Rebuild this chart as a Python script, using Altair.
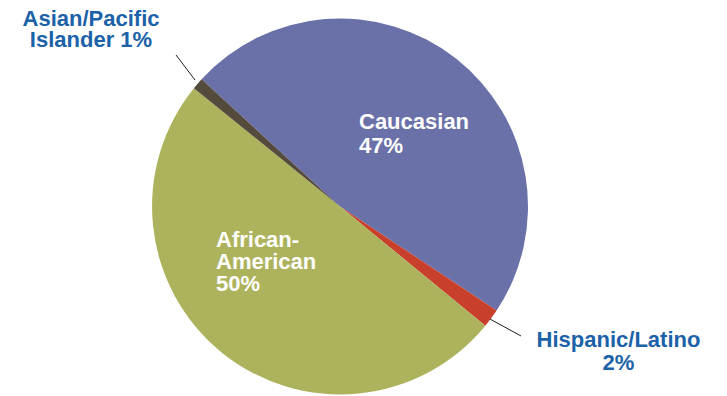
import altair as alt
import pandas as pd

categories = ["Caucasian", "Hispanic/Latino", "African-American", "Asian/Pacific Islander"]
shares = [47.5, 1.6, 49.9, 1.0]
pct_labels = ["47%", "2%", "50%", "1%"]
colors = ["#6A70A8", "#C8402B", "#ADB35D", "#544B3D"]

df = pd.DataFrame({"category": categories, "share": shares, "order": list(range(len(categories)))})

import math
start = math.radians(312.6)
CX, CY, R = 340, 206.5, 188

pie = alt.Chart(df).mark_arc(radius=R, stroke=None).encode(
    theta=alt.Theta("share:Q", stack=True, scale=alt.Scale(range=[start, start + 2 * math.pi])),
    order=alt.Order("order:Q"),
    color=alt.Color("category:N", scale=alt.Scale(domain=categories, range=colors), legend=None),
    x=alt.value(CX),
    y=alt.value(CY),
)

FONT = "Liberation Sans"
BLUE = "#1B62A8"

def label(lines, x, y, color, align, lh=22.5):
    return alt.Chart(df).mark_text(
        text=lines, font=FONT, fontWeight="bold", fontSize=22, color=color,
        align=align, baseline="alphabetic", lineHeight=lh,
    ).encode(x=alt.value(x), y=alt.value(y))

def one(layer):
    return layer.transform_filter("datum.order == 0")

t_cauc = one(label(["Caucasian", pct_labels[0]], 359, 129, "white", "left", 24))
t_afr = one(label(["African-", "American", pct_labels[2]], 216, 247, "white", "left", 22))
t_asian = one(label(["Asian/Pacific", "Islander " + pct_labels[3]], 91, 25.5, BLUE, "center", 21.5))
t_hisp = one(label(["Hispanic/Latino", pct_labels[1]], 618.5, 347, BLUE, "center", 23))

def leader(x1, y1, x2, y2):
    return one(alt.Chart(df).mark_rule(color="#222222", strokeWidth=1).encode(
        x=alt.value(x1), y=alt.value(y1), x2=alt.value(x2), y2=alt.value(y2)))

chart = alt.layer(
    pie,
    leader(176, 55, 195, 80),
    leader(490, 319, 521, 336),
    t_cauc, t_afr, t_asian, t_hisp,
).properties(width=727, height=396, padding=0, background="white").configure_view(stroke=None)

chart.save("out.html", embed_options={"renderer": "svg", "actions": False})
